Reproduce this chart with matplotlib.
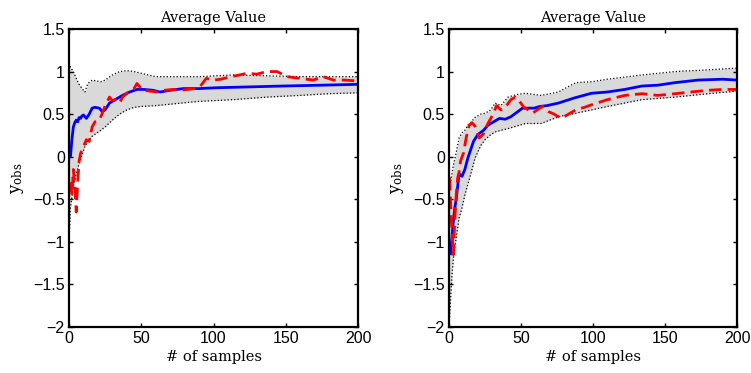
import numpy as np
from matplotlib import pyplot as plt

# left panel
left_band_x = [0, 1, 3, 5, 7, 9, 11, 13, 16, 22, 25, 30, 35, 40, 45, 50, 60, 72, 90, 114, 137, 160, 180, 200]
left_upper = [1.1, 1.05, 1.0, 0.92, 0.85, 0.8, 0.76, 0.86, 0.90, 0.88, 0.9, 0.96, 1.0, 1.01, 1.0, 0.98,
              0.94, 0.94, 0.94, 0.96, 0.95, 0.94, 0.94, 0.94]
left_lower = [-1.0, -0.6, -0.35, -0.2, -0.08, 0.02, 0.12, 0.18, 0.24, 0.31, 0.35, 0.43, 0.5, 0.55, 0.58, 0.59,
              0.60, 0.62, 0.65, 0.67, 0.70, 0.72, 0.74, 0.75]

left_blue_x = [1, 2, 3, 4, 5, 6, 7, 8, 9, 10, 12, 14, 16, 18, 21, 23, 25, 28, 32, 37, 42, 47, 52, 58, 63,
               70, 79, 90, 102, 125, 148, 175, 200]
left_blue = [0.0, 0.2, 0.35, 0.40, 0.43, 0.41, 0.46, 0.45, 0.48, 0.49, 0.45, 0.50, 0.57, 0.58, 0.57, 0.53,
             0.55, 0.63, 0.67, 0.72, 0.76, 0.79, 0.79, 0.78, 0.76, 0.78, 0.80, 0.80, 0.81, 0.82, 0.83, 0.84, 0.85]

left_red_x = [1, 2, 3, 4, 5, 6, 7, 8, 10, 12, 14, 16, 18, 21, 23, 25, 28, 30, 32, 35, 37, 41, 45, 47, 51,
              56, 61, 66, 72, 77, 82, 87, 91, 95, 100, 105, 112, 118, 123, 130, 137, 144, 151, 160, 169,
              176, 183, 190, 200]
left_red = [-0.3, -0.45, -0.15, -0.35, -0.65, -0.3, -0.05, 0.04, 0.12, 0.2, 0.18, 0.35, 0.41, 0.43, 0.51,
            0.6, 0.70, 0.66, 0.67, 0.63, 0.70, 0.76, 0.80, 0.86, 0.78, 0.77, 0.76, 0.78, 0.79, 0.78, 0.79,
            0.80, 0.83, 0.92, 0.90, 0.91, 0.94, 0.96, 0.98, 0.97, 1.0, 1.0, 0.94, 0.92, 0.90, 0.94, 0.90,
            0.90, 0.89]

# right panel
right_band_x = [0, 1, 2, 3, 5, 7, 9, 11, 13, 15, 18, 22, 25, 29, 32, 36, 41, 47, 53, 64, 76, 88, 99, 110,
                134, 157, 180, 200]
right_upper = [-0.2, -0.3, -0.2, -0.1, 0.05, 0.22, 0.28, 0.31, 0.37, 0.40, 0.46, 0.5, 0.51, 0.55, 0.63,
               0.60, 0.70, 0.73, 0.745, 0.72, 0.76, 0.87, 0.88, 0.91, 0.96, 1.0, 1.02, 1.04]
right_lower = [-2.0, -1.7, -1.4, -1.2, -0.95, -0.72, -0.6, -0.45, -0.33, -0.21, -0.02, 0.13, 0.2, 0.26,
               0.29, 0.31, 0.33, 0.36, 0.39, 0.39, 0.47, 0.51, 0.55, 0.59, 0.67, 0.70, 0.74, 0.77]

right_blue_x = [1, 2, 3, 4, 5, 6, 7, 9, 11, 13, 15, 17, 20, 24, 27, 31, 35, 39, 43, 47, 51, 55, 59, 63, 68,
                76, 87, 99, 110, 122, 134, 145, 157, 173, 190, 200]
right_blue = [-1.14, -0.95, -0.76, -0.6, -0.5, -0.35, -0.2, -0.23, -0.15, -0.02, 0.08, 0.18, 0.26, 0.31,
              0.37, 0.41, 0.45, 0.44, 0.47, 0.52, 0.57, 0.57, 0.57, 0.59, 0.60, 0.63, 0.69, 0.745, 0.76,
              0.79, 0.83, 0.84, 0.87, 0.90, 0.91, 0.90]

right_red_x = [0.5, 1, 1.5, 2, 3, 4, 5, 6, 7, 8, 10, 12, 14, 16, 18, 21, 24, 27, 31, 33, 36, 39, 43, 46,
               49, 52, 55, 58, 62, 65, 69, 73, 78, 83, 88, 94, 99, 110, 122, 134, 145, 157, 168, 180, 190, 200]
right_red = [-0.25, -0.5, -0.7, -0.85, -1.15, -0.75, -0.45, -0.25, -0.18, -0.05, 0.04, 0.23, 0.37, 0.40,
             0.36, 0.22, 0.27, 0.39, 0.51, 0.60, 0.55, 0.58, 0.67, 0.70, 0.65, 0.58, 0.55, 0.51, 0.56,
             0.59, 0.53, 0.50, 0.45, 0.50, 0.55, 0.58, 0.61, 0.67, 0.72, 0.74, 0.72, 0.74, 0.76, 0.78,
             0.79, 0.79]

x_ticks = [0, 50, 100, 150, 200]
y_ticks = [-2, -1.5, -1, -0.5, 0, 0.5, 1, 1.5]
y_tick_labels = ['\u22122', '\u22121.5', '\u22121', '\u22120.5', '0', '0.5', '1', '1.5']

plt.rcParams['mathtext.fontset'] = 'dejavuserif'

fig = plt.figure(figsize=(7.51, 3.73), dpi=100)
ax1 = fig.add_axes([0.0919, 0.1233, 0.3848, 0.799])
ax2 = fig.add_axes([0.5979, 0.1233, 0.3835, 0.799])

panels = [
    (ax1, left_band_x, left_upper, left_lower, left_blue_x, left_blue, left_red_x, left_red),
    (ax2, right_band_x, right_upper, right_lower, right_blue_x, right_blue, right_red_x, right_red),
]

for ax, bx, up, lo, blx, bl, rx, rd in panels:
    ax.fill_between(bx, lo, up, color='#d9d9d9', lw=0)
    ax.plot(bx, up, color='k', ls=':', lw=0.9)
    ax.plot(bx, lo, color='k', ls=':', lw=0.9)
    ax.plot(blx, bl, color='#0000ff', lw=2)
    ax.plot(rx, rd, color='#ff0000', lw=2, dashes=(4.5, 2.2))

    ax.set_xlim(0, 200)
    ax.set_ylim(-2, 1.5)
    ax.set_xticks(x_ticks)
    ax.set_yticks(y_ticks)
    ax.set_yticklabels(y_tick_labels)
    ax.tick_params(direction='in', length=3, width=1, top=True, right=True,
                   labelsize=11.5, pad=3)
    for lab in ax.get_xticklabels() + ax.get_yticklabels():
        lab.set_family('Liberation Sans')
    for sp in ax.spines.values():
        sp.set_linewidth(1.6)

    ax.set_title('Average Value', fontfamily='DejaVu Serif', fontsize=10.5, pad=5)
    ax.set_xlabel('# of samples', fontfamily='DejaVu Serif', fontsize=10.5, labelpad=3)
    ax.set_ylabel(r'$\mathrm{y_{obs}}$', fontsize=12, labelpad=5)

fig.savefig('out.png', dpi=100)
